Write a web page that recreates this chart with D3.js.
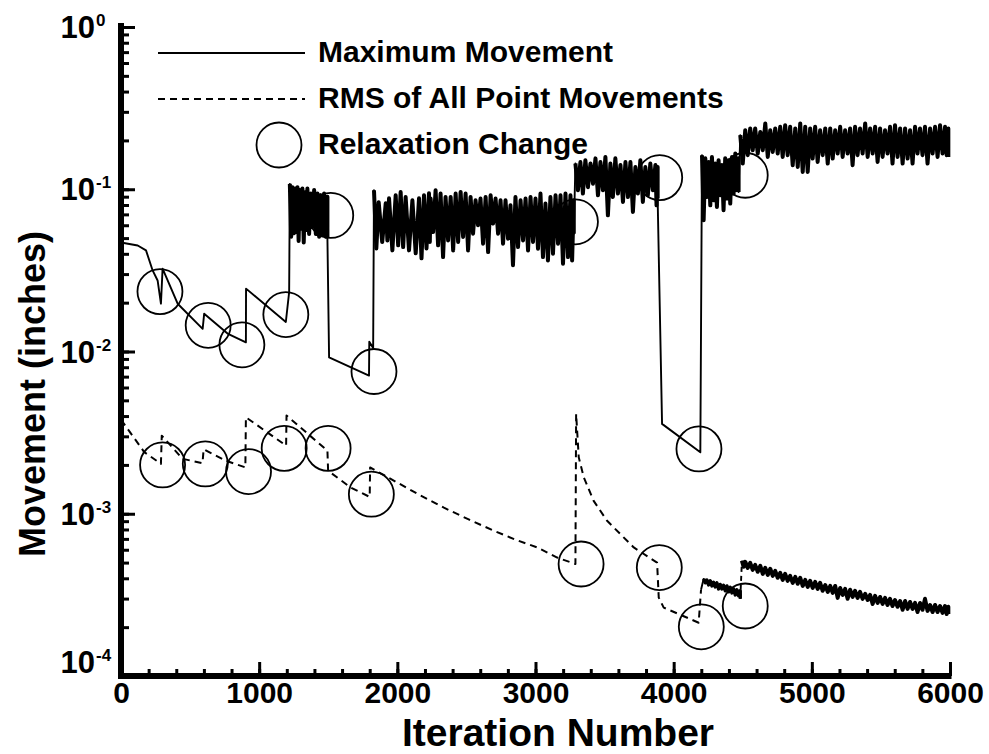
<!DOCTYPE html>
<html>
<head>
<meta charset="utf-8">
<script src="https://cdn.jsdelivr.net/npm/d3@7"></script>
<style>
  body { margin: 0; background: #fff; }
  text { font-family: "Liberation Sans", Arial, sans-serif; font-weight: bold; fill: #000; }
</style>
</head>
<body>
<svg id="chart" width="989" height="754"></svg>
<script>
// ---- data (iteration, movement in inches) ----

// maximum movement, smooth stretches
var maxLead = [[0,0.047],[121,0.045],[181,0.042],[229,0.0316],[265,0.0274],[289,0.0197],[301,0.0324],
  [410,0.0197],[591,0.0138],[602,0.0171],[771,0.0129],[904,0.0114],[905,0.0244],[1193,0.0152],[1217,0.0232]];
var maxDrop1 = [[1506,0.0092],[1795,0.0071],[1797,0.0115],[1825,0.0105]];
var maxDrop2 = [[3916,0.00358],[4193,0.00239]];

// maximum movement, noisy stretches: [iteration, peak, trough]
var maxNoise1 = [[1222,0.108,0.051],[1241,0.103,0.0535],[1260,0.101,0.0545],[1277,0.103,0.048],[1294,0.099,0.057],
  [1313,0.101,0.047],[1332,0.096,0.056],[1349,0.101,0.053],[1374,0.094,0.0585],[1398,0.099,0.053],
  [1422,0.094,0.051],[1446,0.092,0.052],[1470,0.094,0.051],[1494,0.090,0.050]];
var maxNoise2 = [[1831,0.0986,0.0432],[1865,0.0831,0.0473],[1916,0.0819,0.0484],[1940,0.0880,0.0420],
  [1988,0.0918,0.0451],[2024,0.0962,0.0440],[2060,0.0896,0.0420],[2109,0.0855,0.0403],[2157,0.0880,0.0375],
  [2193,0.0918,0.0432],[2229,0.0945,0.0473],[2241,0.0876,0.0545],[2277,0.0986,0.0451],[2313,0.0941,0.0382],
  [2349,0.0896,0.0484],[2386,0.0896,0.0420],[2422,0.0941,0.0473],[2458,0.0962,0.0508],[2494,0.0941,0.0420],
  [2530,0.0896,0.0532],[2566,0.0855,0.0600],[2602,0.0876,0.0462],[2639,0.0896,0.0410],[2675,0.0918,0.0614],
  [2711,0.0876,0.0532],[2747,0.0855,0.0462],[2783,0.0855,0.0496],[2819,0.0796,0.0340],[2855,0.0896,0.0440],
  [2892,0.0855,0.0484],[2928,0.0876,0.0420],[2964,0.0896,0.0473],[3000,0.0876,0.0430],[3036,0.0941,0.0382],
  [3072,0.0816,0.0364],[3108,0.0896,0.0401],[3145,0.0918,0.0462],[3181,0.0918,0.0348],[3217,0.0941,0.0382],
  [3253,0.0918,0.0364],[3277,0.0855,0.0532]];
var maxNoise3 = [[3289,0.144,0.0986],[3325,0.147,0.0941],[3361,0.151,0.103],[3398,0.144,0.108],[3434,0.155,0.0918],
  [3470,0.147,0.0986],[3506,0.158,0.0691],[3542,0.144,0.0896],[3578,0.155,0.0941],[3615,0.141,0.0835],
  [3651,0.147,0.0896],[3687,0.147,0.0724],[3723,0.137,0.0941],[3759,0.151,0.0835],[3795,0.137,0.0918],
  [3831,0.144,0.0986],[3868,0.141,0.0796],[3884,0.137,0.0876]];
var maxNoise4 = [[4205,0.162,0.0644],[4229,0.155,0.0896],[4253,0.147,0.0796],[4277,0.158,0.0855],[4301,0.144,0.0777],
  [4325,0.151,0.0918],[4349,0.141,0.0742],[4373,0.155,0.0876],[4397,0.151,0.0816],[4422,0.158,0.0941],
  [4446,0.166,0.0986],[4470,0.155,0.0962]];
var maxNoise5 = [[4482,0.2154,0.1440],[4518,0.2312,0.1622],[4554,0.2369,0.1741],[4590,0.2369,0.1661],[4627,0.2257,0.1741],
  [4663,0.2544,0.1582],[4699,0.2312,0.1699],[4735,0.2369,0.1661],[4771,0.2424,0.1582],[4807,0.2484,0.1622],
  [4843,0.2424,0.1406],[4880,0.2369,0.1373],[4916,0.2544,0.1279],[4952,0.2424,0.1279],[4988,0.2369,0.1547],
  [5024,0.2424,0.1474],[5060,0.2312,0.1622],[5097,0.2369,0.1440],[5133,0.2369,0.1547],[5169,0.2312,0.1661],
  [5205,0.2424,0.1582],[5241,0.2312,0.1661],[5277,0.2369,0.1406],[5313,0.2424,0.1622],[5349,0.2369,0.1661],
  [5386,0.2544,0.1582],[5422,0.2369,0.1661],[5458,0.2424,0.1474],[5494,0.2369,0.1582],[5530,0.2312,0.1661],
  [5566,0.2424,0.1440],[5602,0.2484,0.1582],[5639,0.2369,0.1440],[5675,0.2369,0.1547],[5711,0.2312,0.1440],
  [5747,0.2424,0.1661],[5783,0.2369,0.1622],[5819,0.2424,0.1440],[5856,0.2369,0.1661],[5892,0.2424,0.1582],
  [5928,0.2484,0.1661],[5964,0.2424,0.1622],[5988,0.2369,0.1582]];

// RMS of all point movements
var rmsEarly = [[0,0.0038],[168,0.0024],[289,0.00203],[295,0.00303],[446,0.00218],[590,0.00205],[598,0.0025],
  [759,0.00212],[900,0.00193],[904,0.00393],[1195,0.00263],[1198,0.00403],[1494,0.00245],[1499,0.00184],
  [1663,0.00145],[1800,0.00127],[1803,0.00193]];
var rmsDecay1 = [[1952,0.00164],[2150,0.00132],[2337,0.00109],[2520,0.00092],[2699,0.000785],[2860,0.00069],
  [3012,0.00062],[3157,0.000537],[3289,0.00049]];
var rmsDecay2 = [[3294,0.00412],[3313,0.00223],[3349,0.00168],[3421,0.0012],[3518,0.000905],[3711,0.00062],
  [3880,0.0005],[3892,0.000304],[3928,0.000264],[4181,0.000213],[4198,0.00034]];
var rmsTailA = [[4217,0.000397,0.000375],[4241,0.000391,0.000364],[4265,0.000386,0.000359],[4289,0.000378,0.000354],
  [4313,0.000375,0.000344],[4337,0.000367,0.000344],[4361,0.000362,0.000335],[4386,0.000359,0.00033],
  [4410,0.000352,0.000325],[4434,0.000344,0.000316],[4458,0.00034,0.000312],[4482,0.000335,0.000299]];
var rmsTailB = [[4494,0.000513,0.000471],[4518,0.000505,0.000464],[4554,0.000498,0.000451],[4590,0.000484,0.000439],
  [4627,0.000477,0.000426],[4663,0.000464,0.00042],[4699,0.000458,0.000414],[4735,0.000445,0.000403],
  [4771,0.000432,0.000391],[4807,0.000426,0.000386],[4843,0.000414,0.000375],[4880,0.000408,0.00037],
  [4916,0.000403,0.000359],[4952,0.000391,0.000354],[4988,0.000386,0.000349],[5024,0.00038,0.000344],
  [5060,0.000375,0.000335],[5097,0.000364,0.00033],[5133,0.000359,0.000325],[5169,0.000359,0.000303],
  [5205,0.000349,0.000316],[5241,0.000344,0.000299],[5277,0.00034,0.000307],[5313,0.000335,0.000303],
  [5349,0.00033,0.000299],[5386,0.000321,0.000294],[5422,0.000316,0.000278],[5458,0.000312,0.000282],
  [5494,0.000307,0.000278],[5530,0.000303,0.000274],[5566,0.000299,0.00027],[5602,0.000294,0.000267],
  [5639,0.00029,0.000256],[5675,0.00029,0.000259],[5711,0.000286,0.000259],[5747,0.000282,0.000248],
  [5783,0.000282,0.000256],[5819,0.000299,0.000252],[5856,0.000274,0.000248],[5892,0.000274,0.000248],
  [5928,0.00027,0.000245],[5964,0.00027,0.000241],[5988,0.000267,0.000241]];

// relaxation changes (circle markers)
var maxRelax = [[282,0.0234],[631,0.0145],[875,0.011],[1193,0.0169],[1518,0.069],[1831,0.00753],
  [3289,0.063],[3899,0.118],[4183,0.00251],[4518,0.122]];
var rmsRelax = [[301,0.0020],[610,0.00203],[923,0.00182],[1181,0.00253],[1499,0.00253],[1812,0.00132],
  [3330,0.00049],[3896,0.000466],[4200,0.000201],[4518,0.00027]];

// axis ticks
var xTickValues = [0, 1000, 2000, 3000, 4000, 5000, 6000];
var xTickLabels = ["0", "1000", "2000", "3000", "4000", "5000", "6000"];
var yTickExps = [0, -1, -2, -3, -4];
var yTickLabels = ["0", "-1", "-2", "-3", "-4"];
var legendLabels = ["Maximum Movement", "RMS of All Point Movements", "Relaxation Change"];

// ---- drawing ----
var svg = d3.select("#chart");

var x = d3.scaleLinear().domain([0, 6000]).range([121, 950]);
var y = d3.scaleLog().domain([1e-4, 1]).range([676, 27]);

var line = d3.line()
  .x(function(d) { return x(d[0]); })
  .y(function(d) { return y(d[1]); });

// peak at the sample, trough halfway to the next sample
function noisePoints(rows) {
  var pts = [];
  rows.forEach(function(r, i) {
    var next = rows[i + 1] ? rows[i + 1][0] : r[0];
    pts.push([r[0], r[1]]);
    pts.push([(r[0] + next) / 2, r[2]]);
  });
  return pts;
}

function drawPath(pts, width, dash) {
  svg.append("path")
    .datum(pts)
    .attr("d", line)
    .attr("fill", "none")
    .style("stroke", "#000")
    .style("stroke-width", width + "px")
    .style("stroke-linejoin", "round")
    .style("stroke-dasharray", dash || "none");
}

// maximum movement
var maxPts = [].concat(maxLead, noisePoints(maxNoise1), maxDrop1, noisePoints(maxNoise2),
  noisePoints(maxNoise3), maxDrop2, noisePoints(maxNoise4), noisePoints(maxNoise5));
drawPath(maxPts, 1.9);
// noisy stretches print as a dense black band
[maxNoise1, maxNoise2, maxNoise3, maxNoise4, maxNoise5].forEach(function(rows) {
  drawPath(noisePoints(rows), 4);
});

// rms movement
drawPath([].concat(rmsEarly, rmsDecay1, rmsDecay2), 2, "7,5");
drawPath([].concat([rmsDecay2[rmsDecay2.length - 1]], noisePoints(rmsTailA)), 1.9);
drawPath(noisePoints(rmsTailA), 3.4);
drawPath([[rmsTailA[rmsTailA.length - 1][0], rmsTailA[rmsTailA.length - 1][2]],
  [rmsTailB[0][0], rmsTailB[0][1]]], 1.9, "5,4");
drawPath(noisePoints(rmsTailB), 4);

// circles
svg.append("g").selectAll("circle")
  .data(maxRelax.concat(rmsRelax))
  .enter().append("circle")
  .attr("cx", function(d) { return x(d[0]); })
  .attr("cy", function(d) { return y(d[1]); })
  .attr("r", 22.5)
  .style("fill", "none")
  .style("stroke", "#000")
  .style("stroke-width", "1.8px");

// x axis, ticks pointing up into the plot
var xMinor = svg.append("g")
  .attr("transform", "translate(0,676)")
  .call(d3.axisBottom(x).tickValues(x.ticks(30)).tickSize(-7).tickSizeOuter(0).tickFormat(""));
var xMajor = svg.append("g")
  .attr("transform", "translate(0,676)")
  .call(d3.axisBottom(x).tickValues(xTickValues).tickSize(-14).tickSizeOuter(0).tickPadding(6)
    .tickFormat(function(d, i) { return xTickLabels[i]; }));
xMajor.selectAll("text").attr("font-size", 30).attr("font-family", null).style("font-weight", "bold");

// y axis, ticks pointing right into the plot
var yMinor = svg.append("g")
  .attr("transform", "translate(121,0)")
  .call(d3.axisLeft(y).tickValues(y.ticks()).tickSize(-8).tickSizeOuter(0).tickFormat(""));
var yMajor = svg.append("g")
  .attr("transform", "translate(121,0)")
  .call(d3.axisLeft(y).tickValues(yTickExps.map(function(e) { return Math.pow(10, e); }))
    .tickSize(-14).tickSizeOuter(0).tickFormat(""));

[xMinor, xMajor, yMinor, yMajor].forEach(function(g) {
  g.selectAll(".domain").remove();
  g.selectAll(".tick line").attr("stroke", "#000").attr("stroke-width", 3);
});

// heavy axis bars
svg.append("rect")
  .attr("x", x(0) - 3).attr("width", 6)
  .attr("y", y(1) - 4).attr("height", y(1e-4) - y(1) + 7)
  .attr("fill", "#000");
svg.append("rect")
  .attr("x", x(0) - 3).attr("width", x(6000) - x(0) + 4.5)
  .attr("y", y(1e-4) - 3).attr("height", 6)
  .attr("fill", "#000");

// y tick labels as 10 with a superscript exponent
var yLab = svg.append("g").selectAll("g")
  .data(yTickExps)
  .enter().append("g")
  .attr("transform", function(e) { return "translate(0," + Math.min(y(Math.pow(10, e)), 662) + ")"; });
yLab.append("text")
  .attr("x", 95).attr("y", 11)
  .attr("text-anchor", "end")
  .attr("font-size", 31)
  .text("10");
yLab.append("text")
  .attr("x", 96).attr("y", -1)
  .attr("font-size", 17)
  .text(function(e, i) { return yTickLabels[i]; });

// axis titles
svg.append("text")
  .attr("x", 558).attr("y", 746)
  .attr("text-anchor", "middle")
  .attr("font-size", 39)
  .text("Iteration Number");

svg.append("text")
  .attr("transform", "translate(45,394) rotate(-90)")
  .attr("text-anchor", "middle")
  .attr("font-size", 36)
  .text("Movement (inches)");

// legend
var legend = svg.append("g");
legend.append("line")
  .attr("x1", 158).attr("x2", 305).attr("y1", 53).attr("y2", 53)
  .style("stroke", "#000").style("stroke-width", "1.9px");
legend.append("line")
  .attr("x1", 158).attr("x2", 305).attr("y1", 99).attr("y2", 99)
  .style("stroke", "#000").style("stroke-width", "1.9px").style("stroke-dasharray", "7,5");
legend.append("circle")
  .attr("cx", 279).attr("cy", 145).attr("r", 22.5)
  .style("fill", "none").style("stroke", "#000").style("stroke-width", "1.8px");
legend.selectAll("text")
  .data(legendLabels)
  .enter().append("text")
  .attr("x", 318)
  .attr("y", function(d, i) { return 62 + i * 46; })
  .attr("font-size", 30)
  .text(function(d) { return d; });
</script>
</body>
</html>
